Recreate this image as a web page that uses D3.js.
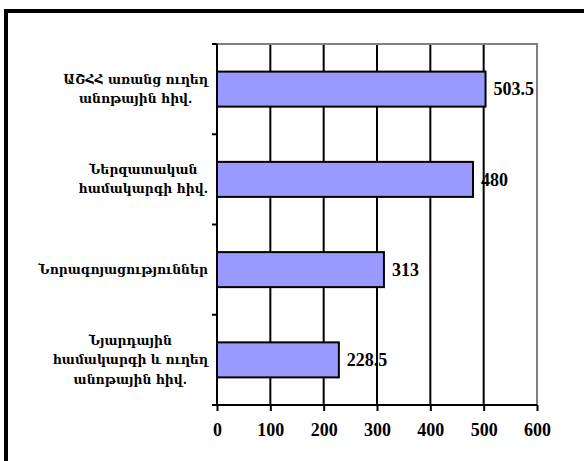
<!DOCTYPE html>
<html><head><meta charset="utf-8">
<script src="https://cdn.jsdelivr.net/npm/d3@7"></script>
<style>body{margin:0;background:#fff}svg{display:block}</style>
</head><body>
<svg id="c" width="584" height="461"></svg>
<script>
const categories = [
  ["ԱՇՀՀ առանց ուղեղ", "անոթային հիվ."],
  ["Ներզատական", "համակարգի հիվ."],
  ["Նորագոյացություններ"],
  ["Նյարդային", "համակարգի և ուղեղ", "անոթային հիվ."]
];
const values = [503.5, 480, 313, 228.5];
const valueLabels = ["503.5", "480", "313", "228.5"];
const xTicks = [0, 100, 200, 300, 400, 500, 600];

const svg = d3.select("#c");
const L = 217, R = 537, T = 44, B = 405;
const x = d3.scaleLinear().domain([0, 600]).range([L, R]);
const y = d3.scaleBand().domain(d3.range(categories.length)).range([T, B])
  .paddingInner(0.612).paddingOuter(0.306);

// frame
svg.append("rect").attr("x", 6).attr("y", 11).attr("width", 640).attr("height", 520)
  .attr("fill", "none").attr("stroke", "#000").attr("stroke-width", 4);

// gridlines
svg.append("g").selectAll("line").data(xTicks.filter(d => d > 0 && d < 600)).join("line")
  .attr("x1", d => x(d)).attr("x2", d => x(d)).attr("y1", T).attr("y2", B)
  .attr("stroke", "#000").attr("stroke-width", 2);
// plot border (top/right gray)
svg.append("path").attr("d", `M${L},${T}H${R}V${B}`).attr("fill", "none")
  .attr("stroke", "#808080").attr("stroke-width", 2);

// bars
svg.append("g").selectAll("rect").data(values).join("rect")
  .attr("x", x(0)).attr("y", (d, i) => y(i))
  .attr("width", d => x(d) - x(0)).attr("height", y.bandwidth())
  .attr("fill", "#9999FF").attr("stroke", "#000").attr("stroke-width", 2);

// value labels
svg.append("g").selectAll("text").data(values).join("text")
  .attr("x", d => x(d) + 8).attr("y", (d, i) => y(i) + y.bandwidth() / 2)
  .attr("dy", "0.35em")
  .attr("font-family", "Liberation Serif").attr("font-weight", "bold").attr("font-size", 18)
  .text((d, i) => valueLabels[i]);

// x axis
const xAxis = d3.axisBottom(x).tickValues(xTicks).tickSize(6).tickPadding(12).tickFormat(d3.format("d"));
const gx = svg.append("g").attr("transform", `translate(0,${B})`).call(xAxis);
gx.select(".domain").attr("stroke", "#000").attr("stroke-width", 2).attr("d", `M${L},0H${R}`);
gx.selectAll(".tick line").attr("stroke", "#000").attr("stroke-width", 2);
gx.selectAll(".tick text").attr("font-family", "Liberation Serif").attr("font-weight", "bold")
  .attr("font-size", 18).attr("fill", "#000");

// y axis line & ticks at band boundaries
const bounds = d3.range(categories.length + 1).map(i => T + i * (B - T) / categories.length);
svg.append("line").attr("x1", L).attr("x2", L).attr("y1", T).attr("y2", B)
  .attr("stroke", "#000").attr("stroke-width", 2);
svg.append("g").selectAll("line").data(bounds).join("line")
  .attr("x1", L - 5).attr("x2", L).attr("y1", d => d).attr("y2", d => d)
  .attr("stroke", "#000").attr("stroke-width", 2);

// category labels
const lh = 19.5;
const gl = svg.append("g");
categories.forEach((lines, i) => {
  const cy = y(i) + y.bandwidth() / 2;
  const t = gl.append("text").attr("font-family", "DejaVu Serif").attr("font-weight", "bold")
    .attr("font-size", 12.4).attr("fill", "#000").attr("text-anchor", "middle");
  lines.forEach((s, j) => {
    t.append("tspan").attr("x", 0).attr("y", cy + (j - (lines.length - 1) / 2) * lh).attr("dy", "0.35em").text(s);
  });
  let maxW = 0;
  t.selectAll("tspan").each(function () { maxW = Math.max(maxW, this.getComputedTextLength()); });
  t.selectAll("tspan").attr("x", 208 - maxW / 2);
});
</script>
</body></html>
